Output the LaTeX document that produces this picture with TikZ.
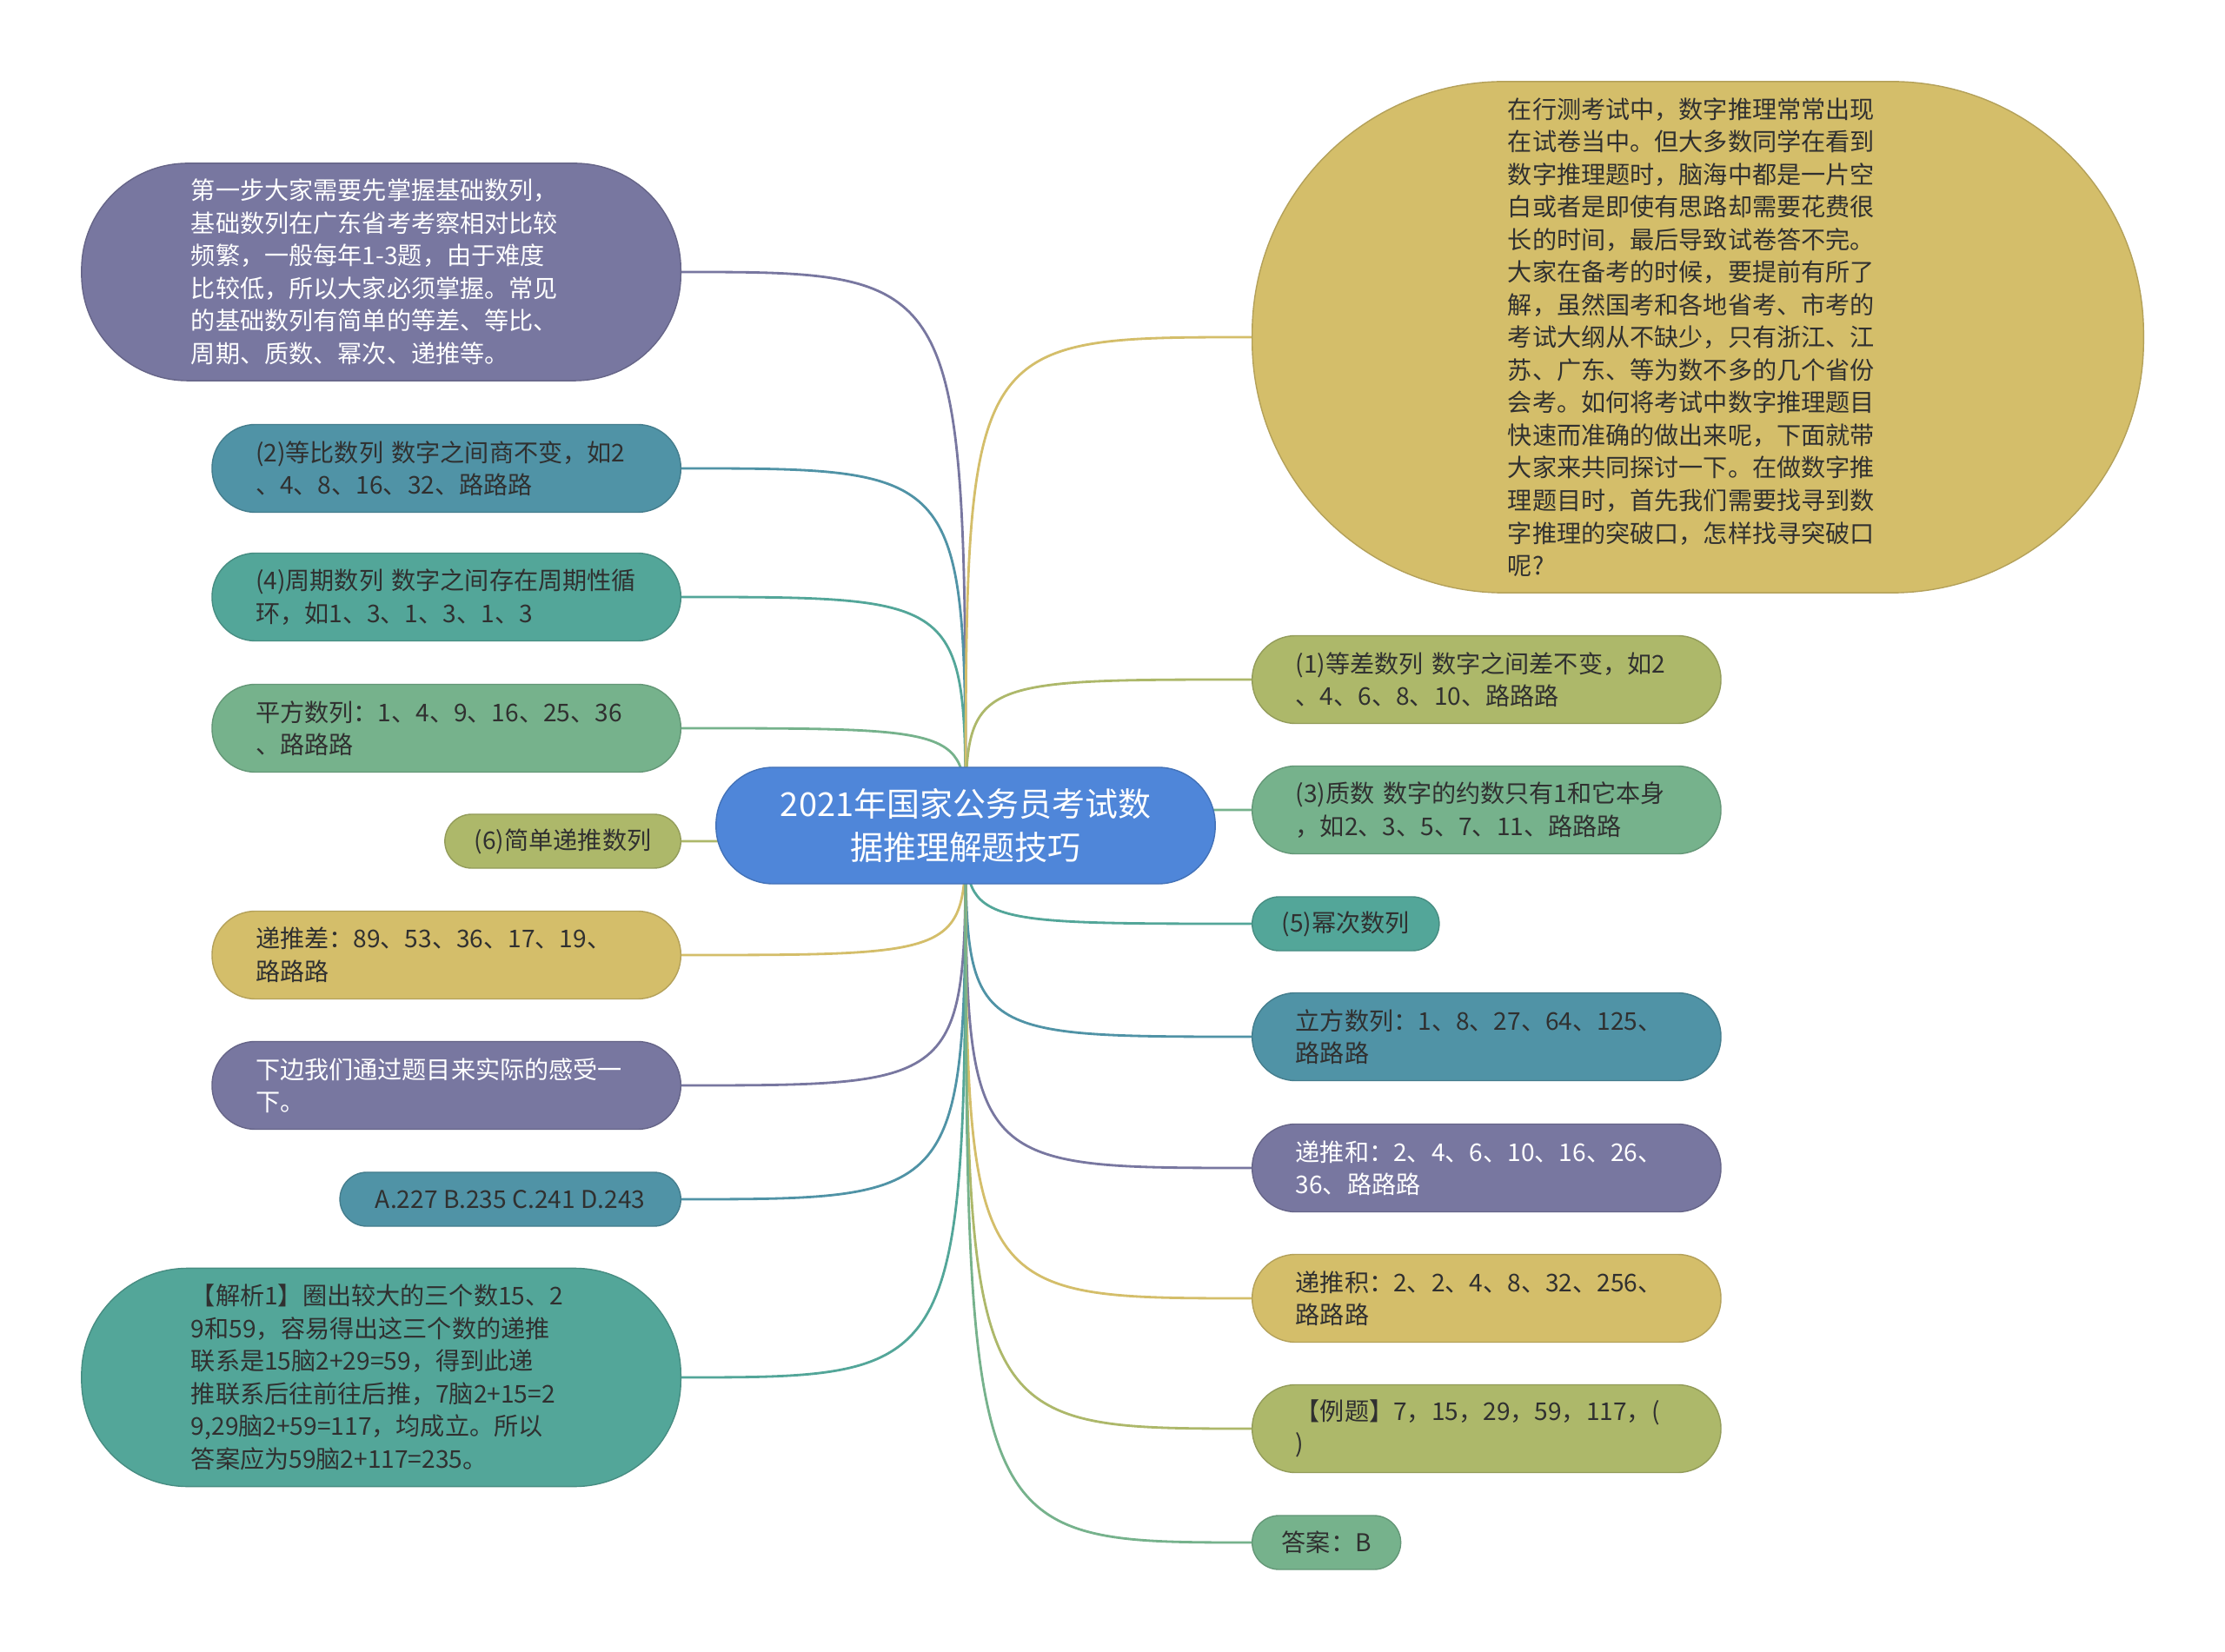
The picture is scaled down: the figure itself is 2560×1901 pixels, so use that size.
\documentclass[tikz,border=0pt]{standalone}
\usepackage{fontspec}
\setmainfont{Noto Sans CJK SC}
\usetikzlibrary{backgrounds}

\definecolor{hubblue}{HTML}{4F86D9}
\definecolor{mmpurple}{HTML}{7877A0}
\definecolor{mmsteel}{HTML}{5093A6}
\definecolor{mmteal}{HTML}{53A699}
\definecolor{mmgreen}{HTML}{76B28C}
\definecolor{mmolive}{HTML}{ADB86A}
\definecolor{mmgold}{HTML}{D4BE6A}
\definecolor{inkdark}{HTML}{303030}

\tikzset{
  hubnode/.style={rectangle, rounded corners=0.66cm, fill=hubblue, draw=hubblue!85!black,
    text=white, font=\fontsize{10.8}{14.4}\selectfont, minimum width=5.74cm,
    minimum height=1.34cm, align=center},
  leaf/.style={rectangle, rounded corners=0.5cm, fill=#1, draw=#1!85!black, line width=0.4pt,
    minimum height=1.01cm, text width=4.39cm, inner xsep=0.5cm, inner ysep=0pt,
    align=left, text=inkdark, font=\fontsize{8}{10.67}\selectfont},
  chip/.style={rectangle, rounded corners=0.31cm, fill=#1, draw=#1!85!black, line width=0.4pt,
    minimum height=0.62cm, inner xsep=0.34cm, inner ysep=0pt,
    text=inkdark, font=\fontsize{8}{10.67}\selectfont},
  bigleaf/.style={leaf=#1, rounded corners=1.22cm, minimum height=2.5cm,
    text width=4.37cm, inner xsep=1.26cm},
  wire/.style={line width=0.8pt}
}

\begin{document}
\begin{tikzpicture}[x=0.01cm, y=-0.01cm]
  \useasboundingbox (0,0) rectangle (2560,1901);

  \node[hubnode] (hub) at (1111,950) {2021年国家公务员考试数\\据推理解题技巧};

  % left side
  \node[bigleaf=mmpurple, text=white, anchor=east] (basics) at (784,313)
    {第一步大家需要先掌握基础数列，\\基础数列在广东省考考察相对比较\\频繁，一般每年1-3题，由于难度\\比较低，所以大家必须掌握。常见\\的基础数列有简单的等差、等比、\\周期、质数、幂次、递推等。};
  \node[leaf=mmsteel, anchor=east] (ratio) at (784,539)
    {(2)等比数列~数字之间商不变，如2\\、4、8、16、32、路路路};
  \node[leaf=mmteal, anchor=east] (period) at (784,687)
    {(4)周期数列~数字之间存在周期性循\\环，如1、3、1、3、1、3};
  \node[leaf=mmgreen, anchor=east] (square) at (784,838)
    {平方数列：1、4、9、16、25、36\\、路路路};
  \node[chip=mmolive, anchor=east, minimum width=2.7cm] (recur) at (784,968)
    {(6)简单递推数列};
  \node[leaf=mmgold, anchor=east] (rdiff) at (784,1099)
    {递推差：89、53、36、17、19、\\路路路};
  \node[leaf=mmpurple, text=white, anchor=east] (tryit) at (784,1249)
    {下边我们通过题目来实际的感受一\\下。};
  \node[chip=mmsteel, anchor=east, minimum width=3.92cm] (choices) at (784,1380)
    {A.227 B.235 C.241 D.243};
  \node[bigleaf=mmteal, anchor=east, minimum height=2.51cm] (solve) at (784,1585)
    {【解析1】圈出较大的三个数15、2\\9和59，容易得出这三个数的递推\\联系是15脑2+29=59，得到此递\\推联系后往前往后推，7脑2+15=2\\9,29脑2+59=117，均成立。所以\\答案应为59脑2+117=235。};

  % right side
  \node[bigleaf=mmgold, anchor=west, rounded corners=2.9cm, minimum height=5.88cm,
    inner xsep=2.94cm] (intro) at (1440,388)
    {在行测考试中，数字推理常常出现\\在试卷当中。但大多数同学在看到\\数字推理题时，脑海中都是一片空\\白或者是即使有思路却需要花费很\\长的时间，最后导致试卷答不完。\\大家在备考的时候，要提前有所了\\解，虽然国考和各地省考、市考的\\考试大纲从不缺少，只有浙江、江\\苏、广东、等为数不多的几个省份\\会考。如何将考试中数字推理题目\\快速而准确的做出来呢，下面就带\\大家来共同探讨一下。在做数字推\\理题目时，首先我们需要找寻到数\\字推理的突破口，怎样找寻突破口\\呢?};
  \node[leaf=mmolive, anchor=west] (arith) at (1440,782)
    {(1)等差数列~数字之间差不变，如2\\、4、6、8、10、路路路};
  \node[leaf=mmgreen, anchor=west] (prime) at (1440,932)
    {(3)质数~数字的约数只有1和它本身\\，如2、3、5、7、11、路路路};
  \node[chip=mmteal, anchor=west, minimum width=2.12cm] (power) at (1440,1063)
    {(5)幂次数列};
  \node[leaf=mmsteel, anchor=west] (cube) at (1440,1193)
    {立方数列：1、8、27、64、125、\\路路路};
  \node[leaf=mmpurple, text=white, anchor=west] (rsum) at (1440,1344)
    {递推和：2、4、6、10、16、26、\\36、路路路};
  \node[leaf=mmgold, anchor=west] (rprod) at (1440,1494)
    {递推积：2、2、4、8、32、256、\\路路路};
  \node[leaf=mmolive, anchor=west] (example) at (1440,1644)
    {【例题】7，15，29，59，117，(\\)};
  \node[chip=mmgreen, anchor=west, minimum width=1.67cm] (answer) at (1440,1775)
    {答案：B};

  \begin{scope}[on background layer]
    \fill[white] (0,0) rectangle (2560,1901);
    \foreach \n/\c in {basics/mmpurple, ratio/mmsteel, period/mmteal, square/mmgreen,
        recur/mmolive, rdiff/mmgold, tryit/mmpurple, choices/mmsteel, solve/mmteal}
      \draw[wire, \c] (\n.east) .. controls (hub.center |- \n.east) .. (hub.center);
    \foreach \n/\c in {intro/mmgold, arith/mmolive, prime/mmgreen, power/mmteal,
        cube/mmsteel, rsum/mmpurple, rprod/mmgold, example/mmolive, answer/mmgreen}
      \draw[wire, \c] (\n.west) .. controls (hub.center |- \n.west) .. (hub.center);
  \end{scope}
\end{tikzpicture}
\end{document}
